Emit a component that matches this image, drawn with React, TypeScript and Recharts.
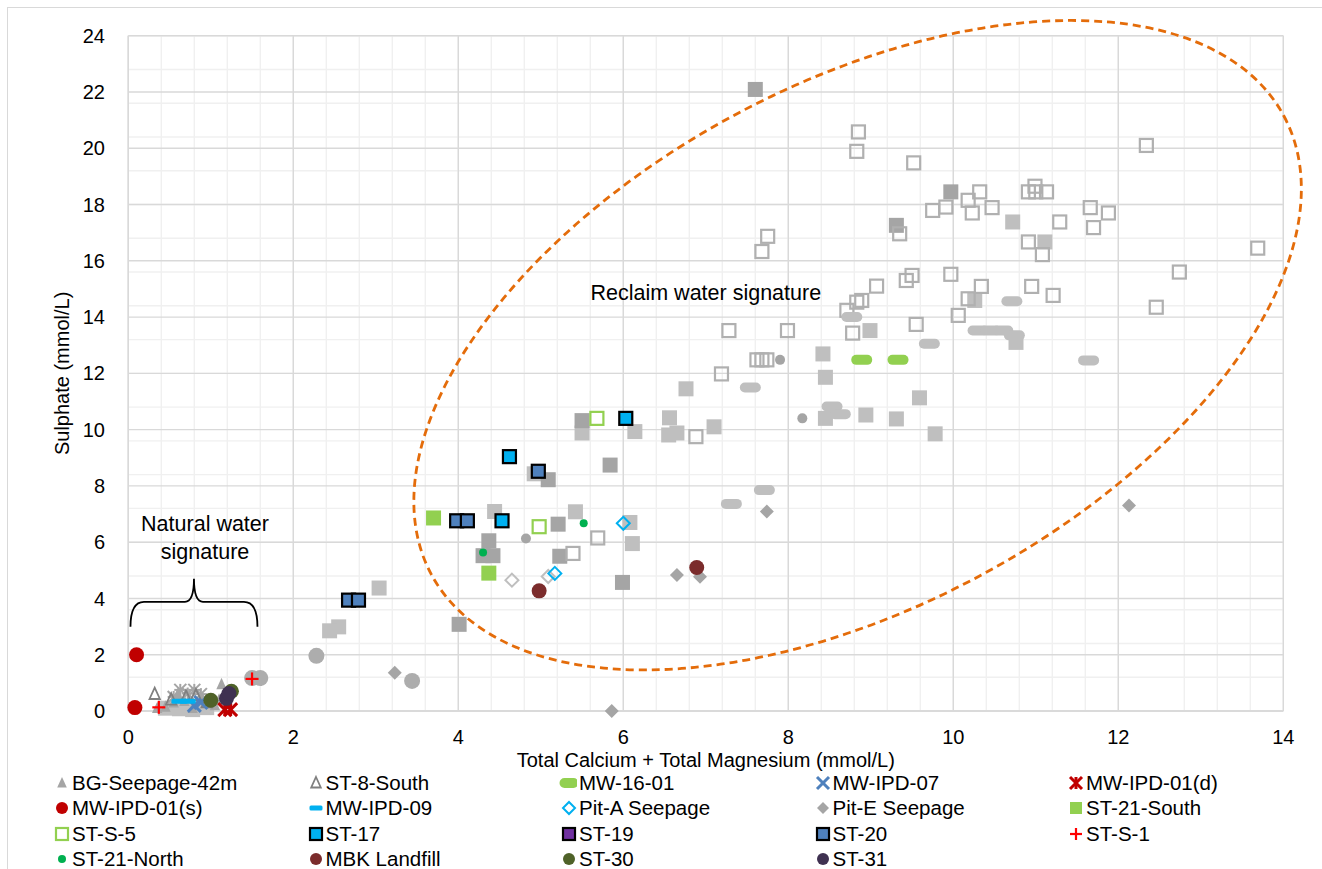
import React from 'react';
import { ScatterChart, Scatter, XAxis, YAxis, CartesianGrid, ReferenceDot, Legend } from 'recharts';

// ---------- axis ticks ----------
const xTicks = [0, 2, 4, 6, 8, 10, 12, 14];
const yTicks = [0, 2, 4, 6, 8, 10, 12, 14, 16, 18, 20, 22, 24];

// ---------- data (x = Ca+Mg mmol/L, y = sulphate mmol/L) ----------
const greyDarkSquares = [
  [7.6, 22.09], [9.97, 18.45], [9.31, 17.26], [5.5, 10.32], [5.84, 8.74], [5.09, 8.22],
  [4.37, 6.05], [4.3, 5.52], [4.42, 5.52], [5.21, 6.64], [5.23, 5.5], [5.99, 4.57], [4.01, 3.08],
];
const greyLightSquares = [
  [3.04, 4.37], [2.55, 2.99], [2.44, 2.85], [4.44, 7.09], [4.92, 8.43], [5.5, 9.88], [6.14, 9.93],
  [5.42, 7.08], [6.08, 6.7], [6.11, 5.95], [6.76, 11.45], [6.56, 10.42], [6.55, 9.81], [6.65, 9.88],
  [7.1, 10.1], [8.42, 12.69], [8.45, 11.86], [8.99, 13.52], [9.59, 11.13], [8.45, 10.4], [8.94, 10.52],
  [9.31, 10.38], [9.78, 9.85], [10.72, 17.38], [11.11, 16.67], [10.26, 14.59], [10.76, 13.1],
  [0.45, 0.1], [0.62, 0.08], [0.78, 0.05], [0.95, 0.12],
];
const greyOpenSquares = [
  [8.85, 20.58], [8.83, 19.89], [9.52, 19.48], [9.75, 17.79], [9.91, 17.91], [10.18, 18.15], [10.32, 18.45],
  [10.23, 17.7], [10.47, 17.89], [9.35, 16.96], [7.75, 16.87], [7.68, 16.33], [9.07, 15.1], [9.43, 15.3],
  [9.5, 15.48], [9.97, 15.52], [8.89, 14.59], [8.83, 14.53], [8.71, 14.24], [8.78, 13.43], [9.55, 13.74],
  [10.06, 14.06], [7.28, 13.52], [7.99, 13.52], [7.62, 12.48], [7.68, 12.48], [7.74, 12.48], [7.19, 11.98],
  [6.88, 9.75], [5.69, 6.15], [5.39, 5.6], [12.34, 20.1], [10.91, 18.45], [11.0, 18.45], [10.99, 18.65],
  [11.13, 18.45], [11.29, 17.38], [11.66, 17.89], [11.88, 17.7], [11.7, 17.18], [13.69, 16.45],
  [10.91, 16.67], [11.08, 16.22], [12.74, 15.6], [10.34, 15.09], [10.18, 14.65], [10.95, 15.09],
  [11.21, 14.77], [12.46, 14.35],
];
const greyPills = [
  [8.77, 14.0], [9.71, 13.05], [7.54, 11.5], [8.53, 10.82], [8.63, 10.55], [7.71, 7.85], [7.31, 7.36],
  [10.71, 14.56], [10.3, 13.52], [10.45, 13.52], [10.6, 13.52], [10.74, 13.35], [11.64, 12.46],
];
const greySmallCircles = [[7.9, 12.48], [8.17, 10.4], [4.82, 6.13]];
const greyCircles = [[1.5, 1.17], [1.6, 1.17], [2.28, 1.96], [3.44, 1.07]];
const greyOpenDiamonds = [[4.65, 4.65], [5.09, 4.78]];
const greyAsterisks = [[0.55, 0.5], [0.63, 0.75], [0.72, 0.62], [0.8, 0.75], [0.88, 0.6]];

const bgSeepage42m = [
  [0.45, 0.15], [0.55, 0.3], [0.68, 0.35], [0.78, 0.1], [0.9, 0.45], [1.05, 0.2], [1.13, 0.95],
  [1.1, 0.4], [0.6, 0.6], [0.35, 0.1],
];
const st8South = [[0.32, 0.6], [0.52, 0.4], [0.7, 0.5], [0.82, 0.55], [0.95, 0.3]];
const mw1601 = [[8.89, 12.48], [9.33, 12.48]];
const mwIpd07 = [[0.8, 0.2], [0.88, 0.3]];
const mwIpd01d = [[1.17, 0.05], [1.24, 0.05]];
const mwIpd01s = [[0.1, 2.0], [0.08, 0.12]];
const mwIpd09 = [[0.62, 0.35], [0.72, 0.35]];
const pitASeepage = [[6.0, 6.67], [5.17, 4.89]];
const pitESeepage = [[3.23, 1.36], [5.86, 0.0], [6.65, 4.83], [6.93, 4.77], [7.74, 7.09], [12.13, 7.3]];
const st21South = [[3.7, 6.86], [4.37, 4.9]];
const stS5 = [[5.68, 10.4], [4.98, 6.55]];
const st17 = [[6.03, 10.4], [4.62, 9.04], [4.53, 6.76]];
const st19: number[][] = [];
const st20 = [[2.67, 3.94], [2.79, 3.94], [3.98, 6.76], [4.11, 6.76], [4.97, 8.52]];
const stS1 = [[0.37, 0.13], [1.5, 1.14]];
const st21North = [[5.52, 6.67], [4.3, 5.63]];
const mbkLandfill = [[4.98, 4.27], [6.89, 5.1]];
const st30 = [[1.0, 0.38], [1.25, 0.7]];
const st31 = [[1.19, 0.45], [1.22, 0.62]];

// annotations (data coordinates)
const ellipseCenter = { x: 8.84, y: 13.0 };
const reclaimLabel = { x: 7.0, y: 14.84, text: 'Reclaim water signature' };
const naturalLabel = { x: 0.93, y: 6.15, lines: ['Natural water', 'signature'] };
const bracePoint = { x: 0.796, y: 3.88 };

const toPts = (a: number[][]) => a.map(([x, y]) => ({ x, y }));

type Kind = 'sq' | 'osq' | 'bsq' | 'circle' | 'diamond' | 'odiamond' | 'tri' | 'otri' | 'pill' | 'dash' | 'x' | 'star' | 'plus' | 'ast';
interface SeriesCfg { key: string; name: string; data: number[][]; kind: Kind; color: string; size: number; legend: boolean; }

const GREY_D = '#A5A5A5';
const GREY_L = '#BFBFBF';

const series: SeriesCfg[] = [
  { key: 'gls', name: 'grey-light', data: greyLightSquares, kind: 'sq', color: GREY_L, size: 15, legend: false },
  { key: 'gds', name: 'grey-dark', data: greyDarkSquares, kind: 'sq', color: GREY_D, size: 15, legend: false },
  { key: 'gos', name: 'grey-open', data: greyOpenSquares, kind: 'osq', color: '#B0B0B0', size: 13, legend: false },
  { key: 'gp', name: 'grey-pill', data: greyPills, kind: 'pill', color: GREY_L, size: 21, legend: false },
  { key: 'gsc', name: 'grey-small', data: greySmallCircles, kind: 'circle', color: GREY_D, size: 10, legend: false },
  { key: 'gc', name: 'grey-circle', data: greyCircles, kind: 'circle', color: '#ADADAD', size: 16, legend: false },
  { key: 'god', name: 'grey-odiamond', data: greyOpenDiamonds, kind: 'odiamond', color: GREY_L, size: 13, legend: false },
  { key: 'gast', name: 'grey-ast', data: greyAsterisks, kind: 'ast', color: GREY_D, size: 12, legend: false },
  { key: 'bg', name: 'BG-Seepage-42m', data: bgSeepage42m, kind: 'tri', color: GREY_D, size: 13, legend: true },
  { key: 'st8', name: 'ST-8-South', data: st8South, kind: 'otri', color: '#808080', size: 13, legend: true },
  { key: 'mw16', name: 'MW-16-01', data: mw1601, kind: 'pill', color: '#92D050', size: 21, legend: true },
  { key: 'ipd07', name: 'MW-IPD-07', data: mwIpd07, kind: 'x', color: '#4F81BD', size: 13, legend: true },
  { key: 'ipd01d', name: 'MW-IPD-01(d)', data: mwIpd01d, kind: 'star', color: '#C00000', size: 13, legend: true },
  { key: 'ipd01s', name: 'MW-IPD-01(s)', data: mwIpd01s, kind: 'circle', color: '#C00000', size: 15, legend: true },
  { key: 'ipd09', name: 'MW-IPD-09', data: mwIpd09, kind: 'dash', color: '#00B0F0', size: 16, legend: true },
  { key: 'pita', name: 'Pit-A Seepage', data: pitASeepage, kind: 'odiamond', color: '#00B0F0', size: 13, legend: true },
  { key: 'pite', name: 'Pit-E Seepage', data: pitESeepage, kind: 'diamond', color: GREY_D, size: 14, legend: true },
  { key: 'st21s', name: 'ST-21-South', data: st21South, kind: 'sq', color: '#92D050', size: 15, legend: true },
  { key: 'sts5', name: 'ST-S-5', data: stS5, kind: 'osq', color: '#92D050', size: 13, legend: true },
  { key: 'st17', name: 'ST-17', data: st17, kind: 'bsq', color: '#00B0F0', size: 13, legend: true },
  { key: 'st19', name: 'ST-19', data: st19, kind: 'bsq', color: '#7030A0', size: 13, legend: true },
  { key: 'st20', name: 'ST-20', data: st20, kind: 'bsq', color: '#4F81BD', size: 13, legend: true },
  { key: 'sts1', name: 'ST-S-1', data: stS1, kind: 'plus', color: '#FF0000', size: 13, legend: true },
  { key: 'st21n', name: 'ST-21-North', data: st21North, kind: 'circle', color: '#00B050', size: 8, legend: true },
  { key: 'mbk', name: 'MBK Landfill', data: mbkLandfill, kind: 'circle', color: '#7B2C2C', size: 15, legend: true },
  { key: 'st30', name: 'ST-30', data: st30, kind: 'circle', color: '#4F6228', size: 15, legend: true },
  { key: 'st31', name: 'ST-31', data: st31, kind: 'circle', color: '#3F3151', size: 15, legend: true },
];

function Mk({ kind, cx, cy, color, s }: { kind: Kind; cx: number; cy: number; color: string; s: number }) {
  const h = s / 2;
  switch (kind) {
    case 'sq':
      return <rect x={cx - h} y={cy - h} width={s} height={s} fill={color} />;
    case 'osq':
      return <rect x={cx - h} y={cy - h} width={s} height={s} fill="none" stroke={color} strokeWidth={2.2} />;
    case 'bsq':
      return <rect x={cx - h} y={cy - h} width={s} height={s} fill={color} stroke="#000" strokeWidth={2.2} />;
    case 'circle':
      return <circle cx={cx} cy={cy} r={h} fill={color} />;
    case 'diamond':
      return <polygon points={`${cx},${cy - h} ${cx + h},${cy} ${cx},${cy + h} ${cx - h},${cy}`} fill={color} />;
    case 'odiamond':
      return <polygon points={`${cx},${cy - h} ${cx + h},${cy} ${cx},${cy + h} ${cx - h},${cy}`} fill="none" stroke={color} strokeWidth={2} />;
    case 'tri':
      return <polygon points={`${cx},${cy - h} ${cx + h * 0.8},${cy + h * 0.75} ${cx - h * 0.8},${cy + h * 0.75}`} fill={color} />;
    case 'otri':
      return <polygon points={`${cx},${cy - h} ${cx + h * 0.8},${cy + h * 0.75} ${cx - h * 0.8},${cy + h * 0.75}`} fill="none" stroke={color} strokeWidth={1.8} />;
    case 'pill':
      return <rect x={cx - h} y={cy - 5} width={s} height={10} rx={5} fill={color} />;
    case 'dash':
      return <rect x={cx - h} y={cy - 2.5} width={s} height={5} rx={1.5} fill={color} />;
    case 'x':
      return (
        <g stroke={color} strokeWidth={3}>
          <line x1={cx - h} y1={cy - h} x2={cx + h} y2={cy + h} />
          <line x1={cx - h} y1={cy + h} x2={cx + h} y2={cy - h} />
        </g>
      );
    case 'star':
      return (
        <g stroke={color} strokeWidth={3}>
          <line x1={cx - h} y1={cy - h} x2={cx + h} y2={cy + h} />
          <line x1={cx - h} y1={cy + h} x2={cx + h} y2={cy - h} />
          <line x1={cx} y1={cy - h} x2={cx} y2={cy + h} />
        </g>
      );
    case 'plus':
      return (
        <g stroke={color} strokeWidth={2.2}>
          <line x1={cx - h} y1={cy} x2={cx + h} y2={cy} />
          <line x1={cx} y1={cy - h} x2={cx} y2={cy + h} />
        </g>
      );
    case 'ast':
      return (
        <g stroke={color} strokeWidth={2}>
          <line x1={cx - h} y1={cy - h} x2={cx + h} y2={cy + h} />
          <line x1={cx - h} y1={cy + h} x2={cx + h} y2={cy - h} />
          <line x1={cx} y1={cy - h} x2={cx} y2={cy + h} />
          <line x1={cx - h} y1={cy} x2={cx + h} y2={cy} />
        </g>
      );
  }
  return null;
}

const FONT = '"Liberation Sans", Arial, sans-serif';
const W = 1306;
const H = 861;
const minorX: number[] = [];
for (let i = 0; i <= 35; i++) minorX.push(+(i * 0.4).toFixed(2));
const minorY: number[] = [];
for (let i = 0; i <= 60; i++) minorY.push(+(i * 0.4).toFixed(2));

function LegendGrid() {
  const items = series.filter((s) => s.legend);
  return (
    <div style={{ position: 'relative', width: W, height: 100, fontFamily: FONT, fontSize: 20.5, color: '#000' }}>
      {items.map((s, i) => {
        const col = i % 5;
        const row = Math.floor(i / 5);
        const left = 42 + col * 253.5;
        const top = row * 25.3;
        const ls = s.kind === 'pill' ? 19 : s.kind === 'dash' ? 13 : s.kind === 'circle' && s.size < 10 ? 8 : 12;
        return (
          <div key={s.key} style={{ position: 'absolute', left, top, height: 26, display: 'flex', alignItems: 'center', whiteSpace: 'nowrap' }}>
            <svg width={20} height={20} style={{ display: 'block' }}>
              <Mk kind={s.kind} cx={12} cy={10} color={s.color} s={ls} />
            </svg>
            <span style={{ marginLeft: 2, lineHeight: '26px' }}>{s.name}</span>
          </div>
        );
      })}
    </div>
  );
}

export default function App() {
  return (
    <div style={{ position: 'fixed', left: 8, top: 8, width: W, height: H, background: '#fff' }}>
      <div style={{ position: 'fixed', left: 7, top: 7, width: 1340, height: 900, border: '1px solid #D9D9D9', boxSizing: 'border-box', pointerEvents: 'none' }} />
      <ScatterChart width={W} height={H} margin={{ top: 27.7, right: 30.7, bottom: 98, left: 60.3 }} style={{ fontFamily: FONT }}>
        <CartesianGrid horizontalValues={minorY} verticalValues={minorX} stroke="#F0F0F0" strokeWidth={1.4} />
        <CartesianGrid horizontalValues={yTicks} verticalValues={xTicks} stroke="#D9D9D9" strokeWidth={1.4} />
        <XAxis
          type="number"
          dataKey="x"
          domain={[0, 14]}
          ticks={xTicks}
          height={60}
          tickLine={false}
          tickSize={0}
          tickMargin={19}
          axisLine={{ stroke: '#D9D9D9', strokeWidth: 1.4 }}
          tick={{ fontSize: 20, fill: '#000', fontFamily: FONT }}
          label={{
            content: (p: any) => {
              const vb = p.viewBox || {};
              return (
                <text x={vb.x + vb.width / 2} y={vb.y + 49} textAnchor="middle" dominantBaseline="central" fontSize={20} fill="#000" fontFamily={FONT}>
                  Total Calcium + Total Magnesium (mmol/L)
                </text>
              );
            },
          }}
        />
        <YAxis
          type="number"
          dataKey="y"
          domain={[0, 24]}
          ticks={yTicks}
          width={60}
          tickLine={false}
          tickSize={0}
          tickMargin={23.3}
          axisLine={{ stroke: '#D9D9D9', strokeWidth: 1.4 }}
          tick={{ fontSize: 20, fill: '#000', fontFamily: FONT }}
          label={{
            content: (p: any) => {
              const vb = p.viewBox || {};
              const cy = vb.y + vb.height / 2;
              return (
                <text x={54} y={cy} textAnchor="middle" dominantBaseline="central" fontSize={20} fill="#000" fontFamily={FONT} transform={`rotate(-90 54 ${cy})`}>
                  Sulphate (mmol/L)
                </text>
              );
            },
          }}
        />
        {series.map((s) => (
          <Scatter
            key={s.key}
            name={s.name}
            data={toPts(s.data)}
            isAnimationActive={false}
            legendType={s.legend ? 'square' : 'none'}
            shape={(p: any) => <Mk kind={s.kind} cx={p.cx} cy={p.cy} color={s.color} s={s.size} />}
          />
        ))}
        <ReferenceDot
          x={ellipseCenter.x}
          y={ellipseCenter.y}
          r={1}
          ifOverflow="visible"
          shape={(p: any) => (
            <ellipse cx={p.cx} cy={p.cy} rx={484} ry={261} transform={`rotate(-28.3 ${p.cx} ${p.cy})`} fill="none" stroke="#E46C0A" strokeWidth={2.8} strokeDasharray="8 5" />
          )}
        />
        <ReferenceDot
          x={reclaimLabel.x}
          y={reclaimLabel.y}
          r={1}
          ifOverflow="visible"
          shape={(p: any) => (
            <text x={p.cx} y={p.cy} textAnchor="middle" dominantBaseline="central" fontSize={21.5} fill="#000" fontFamily={FONT}>
              {reclaimLabel.text}
            </text>
          )}
        />
        <ReferenceDot
          x={naturalLabel.x}
          y={naturalLabel.y}
          r={1}
          ifOverflow="visible"
          shape={(p: any) => (
            <g>
              {naturalLabel.lines.map((t, i) => (
                <text key={t} x={p.cx} y={p.cy + (i - 0.5) * 27.7} textAnchor="middle" dominantBaseline="central" fontSize={21.5} fill="#000" fontFamily={FONT}>
                  {t}
                </text>
              ))}
            </g>
          )}
        />
        <ReferenceDot
          x={bracePoint.x}
          y={bracePoint.y}
          r={1}
          ifOverflow="visible"
          shape={(p: any) => {
            const x = p.cx;
            const y = p.cy;
            return (
              <path
                d={`M ${x - 63.5} ${y + 25} Q ${x - 63.5} ${y} ${x - 50} ${y} L ${x - 9} ${y} Q ${x} ${y} ${x} ${y - 23} Q ${x} ${y} ${x + 9} ${y} L ${x + 50} ${y} Q ${x + 63.5} ${y} ${x + 63.5} ${y + 25}`}
                fill="none"
                stroke="#000"
                strokeWidth={1.8}
              />
            );
          }}
        />
        <Legend layout="horizontal" verticalAlign="middle" align="center" wrapperStyle={{ top: 762, left: 0, width: W, height: 100 }} content={() => <LegendGrid />} />
      </ScatterChart>
    </div>
  );
}
